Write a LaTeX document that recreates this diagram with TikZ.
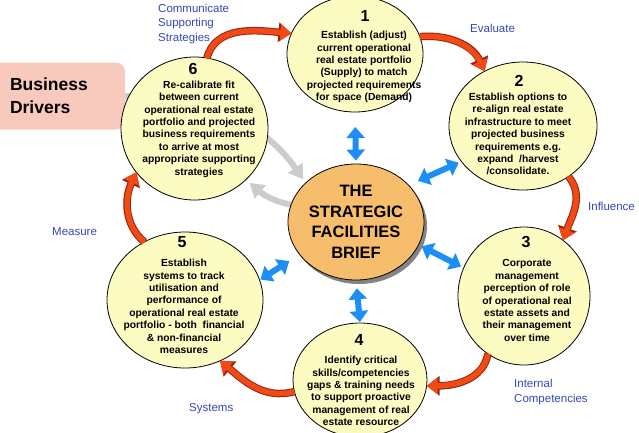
\documentclass[tikz,border=0pt]{standalone}
\usepackage{fontspec}
\setmainfont{Liberation Sans}
\usetikzlibrary{shapes.geometric, arrows.meta, shadows, positioning}
\definecolor{stagefill}{RGB}{252,252,194}
\definecolor{corefill}{RGB}{246,189,108}
\definecolor{drvfill}{RGB}{248,202,190}
\definecolor{linkblue}{RGB}{28,142,245}
\definecolor{turnred}{RGB}{242,74,22}
\definecolor{turndark}{RGB}{150,36,10}
\definecolor{feedgray}{RGB}{204,204,204}
\definecolor{labelblue}{RGB}{52,72,180}
\pgfdeclarelayer{bg}
\pgfsetlayers{bg,main}
\tikzstyle{stage}     = [draw, ellipse, fill=stagefill, line width=0.8pt, inner sep=0pt, outer sep=0pt]
\tikzstyle{stagenum}  = [font=\bfseries\fontsize{16}{16}\selectfont, inner sep=0pt]
\tikzstyle{stagetext} = [font=\bfseries\fontsize{10.3}{12.4}\selectfont, align=center, inner sep=0pt]
\tikzstyle{core}      = [draw, ellipse, fill=corefill, line width=0.8pt, inner sep=0pt, minimum width=136pt, minimum height=116pt, align=center, font=\bfseries\fontsize{16.5}{20.5}\selectfont, drop shadow={shadow xshift=3pt, shadow yshift=-4pt, fill=black!60, opacity=0.8}]
\tikzstyle{driver}    = [rectangle, rounded corners=9pt, fill=drvfill, minimum width=134pt, minimum height=67pt, text width=96pt, align=left, font=\bfseries\fontsize{17.5}{23}\selectfont]
\tikzstyle{link}      = [line width=6pt, draw=linkblue, {Triangle[width=18pt,length=11pt]}-{Triangle[width=18pt,length=11pt]}]
\tikzstyle{turn}      = [line width=5.5pt, draw=turnred, -{Triangle[width=16pt,length=11pt]}, preaction={draw=turndark, line width=7.5pt, -{Triangle[width=19pt,length=13pt]}}]
\tikzstyle{feed}      = [line width=6pt, draw=feedgray, -{Triangle[width=17pt,length=14pt]}]
\tikzstyle{phase}     = [text=labelblue, font=\fontsize{11.5}{14.5}\selectfont, align=left, anchor=west, inner sep=0pt]

\begin{document}
\begin{tikzpicture}[x=1pt,y=-1pt]

\useasboundingbox (0,0) rectangle (639,432);
\begin{pgfonlayer}{bg}
\fill[white] (0,0) rectangle (639,432);
\end{pgfonlayer}

\node[driver] (bd) at (58,96) {Business\\Drivers};

\node[stage, minimum width=136pt, minimum height=116pt] (c1) at (355,54) {};
\node[stage, minimum width=148pt, minimum height=128pt] (c2) at (523,126) {};
\node[stage, minimum width=132pt, minimum height=138pt] (c3) at (524,296) {};
\node[stage, minimum width=134pt, minimum height=114pt] (c4) at (360,380) {};
\node[stage, minimum width=156pt, minimum height=136pt] (c5) at (185,300) {};
\node[stage, minimum width=147pt, minimum height=143pt] (c6) at (194.5,128.5) {};
\node[core] (ce) at (356,222) {THE\\STRATEGIC\\FACILITIES\\BRIEF};

\node[stagenum] at (365,16) {1};
\node[stagetext] at (364,67) {Establish (adjust)\\current operational\\real estate portfolio\\(Supply) to match\\projected requirements\\for space (Demand)};
\node[stagenum] at (519,81) {2};
\node[stagetext] at (518,134) {Establish options to\\re-align real estate\\infrastructure to meet\\projected business\\requirements e.g.\\expand\ \ /harvest\\/consolidate.};
\node[stagenum] at (526,242) {3};
\node[stagetext] at (527,300.5) {Corporate\\management\\perception of role\\of operational real\\estate assets and\\their management\\over time};
\node[stagenum] at (359,340) {4};
\node[stagetext] at (361,391) {Identify critical\\skills/competencies\\gaps \& training needs\\to support proactive\\management of real\\estate resource};
\node[stagenum] at (182,242) {5};
\node[stagetext] at (184,306.5) {Establish\\systems to track\\utilisation and\\performance of\\operational real estate\\portfolio - both\ \ financial\\\& non-financial\\measures};
\node[stagenum] at (193,69) {6};
\node[stagetext] at (199,129) {Re-calibrate fit\\between current\\operational real estate\\portfolio and projected\\business requirements\\to arrive at most\\appropriate supporting\\strategies};

\node[phase] (lcomm) at (158,24) {Communicate\\Supporting\\Strategies};
\node[phase] (leval) at (470,28) {Evaluate};
\node[phase] (linfl) at (588,206) {Influence};
\node[phase] (lcomp) at (514,392) {Internal\\Competencies};
\node[phase] (lsyst) at (189,409) {Systems};
\node[phase] (lmeas) at (52,232) {Measure};

\begin{pgfonlayer}{bg}
\draw[feed, shorten >=4pt] (bd.east) to[out=-3, in=125] (ce.142);
\draw[feed, shorten >=5pt] (ce.165) to[out=170, in=-40] (c6.-45);
\end{pgfonlayer}

\draw[link, shorten <=15pt, shorten >=3pt] (c1.south) -- (ce.north);
\draw[link, shorten <=10pt, shorten >=3pt] (ce.35) -- (c2.210);
\draw[link, shorten <=3pt, shorten >=3pt] (ce.-20) -- (c3.155);
\draw[link, shorten <=8pt, shorten >=1pt] (ce.south) -- (c4.north);
\draw[link, shorten <=1pt, shorten >=12pt] (c5.15) -- (ce.210);

\draw[turn] (c6.80) to[out=75, in=175] (c1.162);
\draw[turn] (c1.15) to[out=5, in=115] (c2.125);
\draw[turn] (c2.-48) to[out=-50, in=70] (c3.55);
\draw[turn] (c3.-122) to[out=-100, in=0] (c4.-5);
\draw[turn] (c4.190) to[out=195, in=-40] (c5.-60);
\draw[turn] (c5.125) to[out=140, in=-115] (c6.-143);

\end{tikzpicture}
\end{document}
